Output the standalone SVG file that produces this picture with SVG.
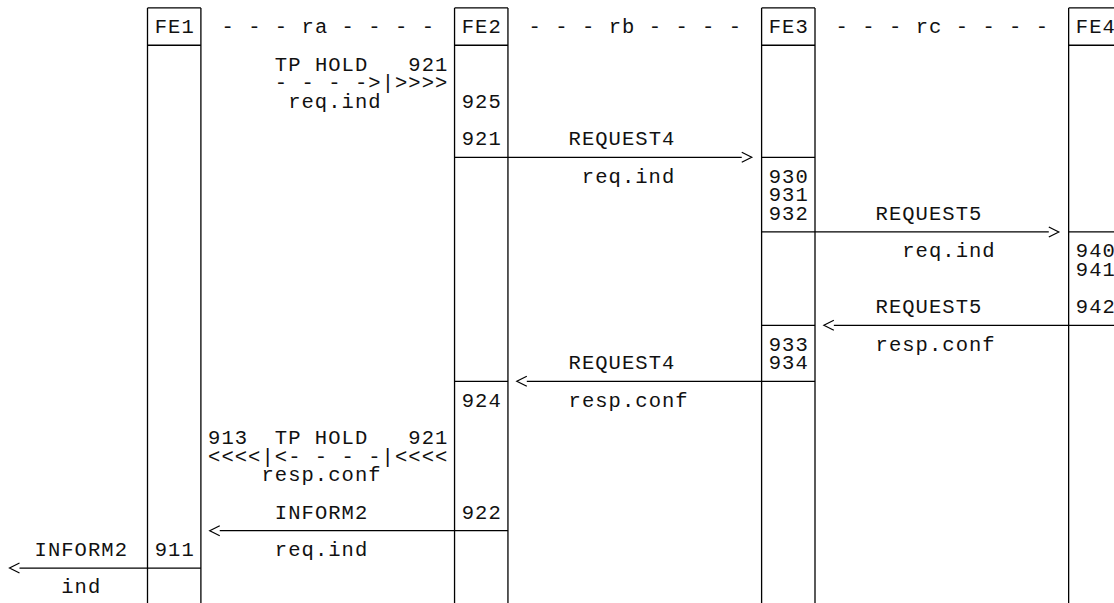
<svg xmlns="http://www.w3.org/2000/svg" width="1114" height="603" viewBox="0 0 1114 603">
<style>
  .t { font-family: "Courier New", Courier, "Liberation Mono", monospace; font-size: 20.5px; letter-spacing: 1.05px; fill: #111; white-space: pre; }
  .b { stroke: #000; stroke-width: 1.3; fill: none; }
  .c { stroke: #000; stroke-width: 1.3; fill: none; marker-end: url(#ah); }
</style>
<defs>
  <marker id="ah" viewBox="0 0 10 10" refX="0" refY="5" markerWidth="10" markerHeight="10" markerUnits="userSpaceOnUse" orient="auto" overflow="visible">
    <path d="M0,0 L10,5 L0,10" fill="none" stroke="#000" stroke-width="1.2"/>
  </marker>
</defs>
<rect width="1114" height="603" fill="#fff"/>

<g id="FE1">
  <line class="b" x1="147.5" y1="7.93" x2="147.5" y2="603"/>
  <line class="b" x1="200.9" y1="7.93" x2="200.9" y2="603"/>
  <line class="b" x1="147.5" y1="7.93" x2="200.9" y2="7.93"/>
  <line class="b" x1="147.5" y1="45.27" x2="200.9" y2="45.27"/>
  <text class="t" x="154.7" y="33.3">FE1</text>
  <text class="t" x="154.7" y="556.06">911</text>
</g>

<g id="FE2">
  <line class="b" x1="454.55" y1="7.93" x2="454.55" y2="603"/>
  <line class="b" x1="507.95" y1="7.93" x2="507.95" y2="603"/>
  <line class="b" x1="454.55" y1="7.93" x2="507.95" y2="7.93"/>
  <line class="b" x1="454.55" y1="45.27" x2="507.95" y2="45.27"/>
  <line class="b" x1="454.55" y1="157.29" x2="507.95" y2="157.29"/>
  <line class="b" x1="454.55" y1="381.33" x2="507.95" y2="381.33"/>
  <text class="t" x="461.75" y="33.3">FE2</text>
  <text class="t" x="461.75" y="107.98">925</text>
  <text class="t" x="461.75" y="145.32">921</text>
  <text class="t" x="461.75" y="406.7">924</text>
  <text class="t" x="461.75" y="518.72">922</text>
</g>

<g id="FE3">
  <line class="b" x1="761.6" y1="7.93" x2="761.6" y2="603"/>
  <line class="b" x1="815" y1="7.93" x2="815" y2="603"/>
  <line class="b" x1="761.6" y1="7.93" x2="815" y2="7.93"/>
  <line class="b" x1="761.6" y1="45.27" x2="815" y2="45.27"/>
  <line class="b" x1="761.6" y1="157.29" x2="815" y2="157.29"/>
  <line class="b" x1="761.6" y1="325.32" x2="815" y2="325.32"/>
  <text class="t" x="768.75" y="33.3">FE3</text>
  <text class="t" x="768.75" y="182.66">930</text>
  <text class="t" x="768.75" y="201.33">931</text>
  <text class="t" x="768.75" y="220">932</text>
  <text class="t" x="768.75" y="350.69">933</text>
  <text class="t" x="768.75" y="369.36">934</text>
</g>

<g id="FE4">
  <line class="b" x1="1068.65" y1="7.93" x2="1068.65" y2="603"/>
  <line class="b" x1="1068.65" y1="7.93" x2="1114" y2="7.93"/>
  <line class="b" x1="1068.65" y1="45.27" x2="1114" y2="45.27"/>
  <line class="b" x1="1068.65" y1="231.97" x2="1114" y2="231.97"/>
  <text class="t" x="1075.85" y="33.3">FE4</text>
  <text class="t" x="1075.85" y="257.34">940</text>
  <text class="t" x="1075.85" y="276.01">941</text>
  <text class="t" x="1075.85" y="313.35">942</text>
</g>

<g id="relations">
  <text class="t" x="221.45" y="33.3">- - - ra - - - -</text>
  <text class="t" x="528.55" y="33.3">- - - rb - - - -</text>
  <text class="t" x="835.55" y="33.3">- - - rc - - - -</text>
</g>

<g id="tp-hold-req">
  <text class="t" x="274.85" y="70.64" xml:space="preserve">TP HOLD   921</text>
  <text class="t" x="274.85" y="89.31" xml:space="preserve">- - - -&gt;|&gt;&gt;&gt;&gt;</text>
  <text class="t" x="288.15" y="107.98">req.ind</text>
</g>

<g id="tp-hold-resp">
  <text class="t" x="208.05" y="444.04" xml:space="preserve">913  TP HOLD   921</text>
  <text class="t" x="208.05" y="462.71" xml:space="preserve">&lt;&lt;&lt;&lt;|&lt;- - - -|&lt;&lt;&lt;&lt;</text>
  <text class="t" x="261.45" y="481.38">resp.conf</text>
</g>

<g id="connectors">
  <line class="c" x1="507.95" y1="157.29" x2="741.75" y2="157.29"/>
  <line class="c" x1="815" y1="231.97" x2="1048.8" y2="231.97"/>
  <line class="c" x1="1114" y1="325.32" x2="833.85" y2="325.32"/>
  <line class="c" x1="761.6" y1="381.33" x2="526.8" y2="381.33"/>
  <line class="c" x1="454.55" y1="530.69" x2="219.75" y2="530.69"/>
  <line class="c" x1="147.5" y1="568.03" x2="19.5" y2="568.03"/>
  <line class="b" x1="761.6" y1="231.97" x2="815" y2="231.97"/>
  <line class="b" x1="815" y1="381.33" x2="761.6" y2="381.33"/>
  <line class="b" x1="507.95" y1="530.69" x2="454.55" y2="530.69"/>
  <line class="b" x1="200.9" y1="568.03" x2="147.5" y2="568.03"/>
</g>

<g id="labels">
  <text class="t" x="568.55" y="145.32">REQUEST4</text>
  <text class="t" x="581.85" y="182.66">req.ind</text>
  <text class="t" x="875.55" y="220">REQUEST5</text>
  <text class="t" x="902.25" y="257.34">req.ind</text>
  <text class="t" x="875.55" y="313.35">REQUEST5</text>
  <text class="t" x="875.55" y="350.69">resp.conf</text>
  <text class="t" x="568.55" y="369.36">REQUEST4</text>
  <text class="t" x="568.55" y="406.7">resp.conf</text>
  <text class="t" x="274.85" y="518.72">INFORM2</text>
  <text class="t" x="274.85" y="556.06">req.ind</text>
  <text class="t" x="34.55" y="556.06">INFORM2</text>
  <text class="t" x="61.25" y="593.4">ind</text>
</g>
</svg>
